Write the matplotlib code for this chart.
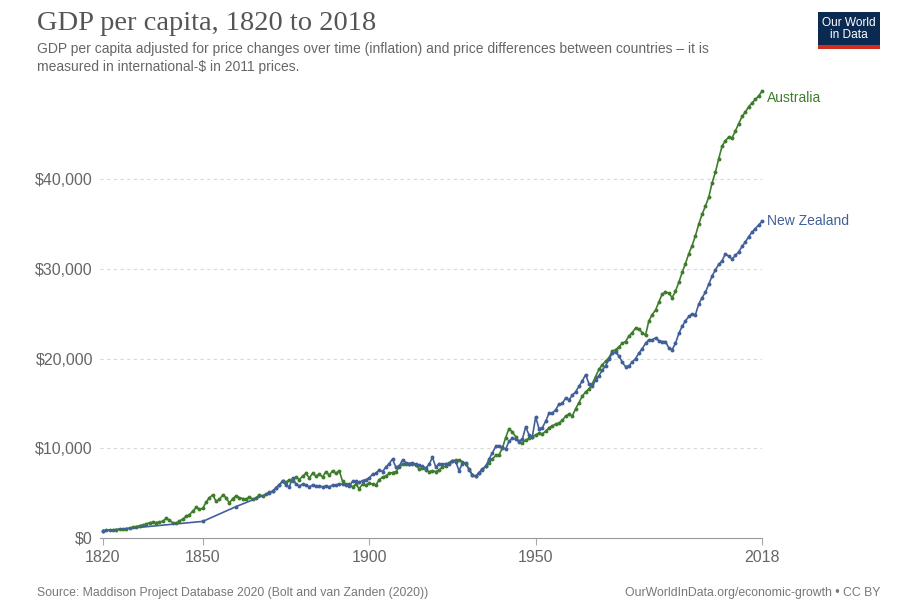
import matplotlib
matplotlib.use("Agg")
import matplotlib.pyplot as plt
from matplotlib.patches import Rectangle
from matplotlib.ticker import FuncFormatter

# GDP per capita (int.-$, 2011 prices)
aus_years = list(range(1820, 2019))
aus_gdp = [
    820, 850, 880, 900, 930, 970, 1000, 1050, 1100, 1200,            # 1820s
    1280, 1350, 1450, 1550, 1700, 1750, 1720, 1800, 1850, 2200,      # 1830s
    1950, 1700, 1650, 1900, 2100, 2400, 2600, 3000, 3400, 3200,      # 1840s
    3300, 4000, 4500, 4800, 4100, 4300, 4800, 4500, 3900, 4400,      # 1850s
    4700, 4500, 4400, 4300, 4600, 4300, 4500, 4800, 4700, 4900,      # 1860s
    5100, 5200, 5600, 5900, 6400, 6200, 6500, 6300, 6800, 6500,      # 1870s
    6900, 7200, 6700, 7200, 6900, 7100, 6800, 7400, 7000, 7500,      # 1880s
    7200, 7500, 6300, 6000, 6000, 5700, 6000, 5500, 6000, 5900,      # 1890s
    6100, 6000, 5900, 6500, 6800, 6900, 7200, 7300, 7400, 7900,      # 1900s
    8300, 8200, 8200, 8300, 8100, 7700, 7800, 7600, 7400, 7500,      # 1910s
    7400, 7600, 7900, 8000, 8400, 8600, 8700, 8700, 8500, 8200,      # 1920s
    7700, 7000, 6900, 7200, 7600, 8000, 8400, 8800, 9200, 9300,      # 1930s
    10000, 11200, 12200, 11800, 11300, 10700, 10600, 10900, 11100, 11300,  # 1940s
    11500, 11700, 11600, 11900, 12300, 12500, 12700, 12800, 13100, 13600,  # 1950s
    13800, 13600, 14400, 15100, 15800, 16300, 16600, 17200, 18000, 18800,  # 1960s
    19300, 19700, 20100, 20800, 21000, 21300, 21700, 21900, 22500, 22900,  # 1970s
    23400, 23300, 22900, 22600, 24200, 24900, 25400, 26300, 27200, 27400,  # 1980s
    27300, 26800, 27500, 28500, 29600, 30600, 31700, 32600, 33700, 35000,  # 1990s
    36100, 37000, 38000, 39600, 40800, 42300, 43700, 44300, 44700, 44600,  # 2000s
    45400, 46200, 47000, 47500, 48100, 48500, 48900, 49300, 49800,         # 2010s
]

nz_years = [1820, 1850, 1860] + list(range(1870, 2019))
nz_gdp = [
    800, 1850, 3500,
    5000, 5200, 5600, 5900, 6300, 5900, 5700, 6700, 6000, 5800,      # 1870s
    6000, 5900, 5700, 5900, 5800, 5800, 5700, 5800, 5700, 5900,      # 1880s
    5900, 6000, 6000, 5900, 5800, 6300, 6300, 6200, 6400, 6500,      # 1890s
    6700, 7100, 7200, 7600, 7400, 7900, 8300, 8800, 7900, 8000,      # 1900s
    8700, 8400, 8300, 8400, 8200, 8100, 8000, 7800, 8200, 9000,      # 1910s
    7900, 8300, 8200, 8300, 8300, 8600, 8500, 7500, 8300, 8400,      # 1920s
    7600, 7000, 6900, 7300, 7700, 8000, 8800, 9500, 10200, 10300,    # 1930s
    10100, 9900, 10800, 11100, 11000, 10800, 11000, 12400, 11500, 11300,   # 1940s
    13500, 12200, 12300, 13000, 13900, 13900, 14300, 14900, 15000, 15600,  # 1950s
    15400, 15900, 16300, 16900, 17500, 18200, 17200, 16900, 17600, 18100,  # 1960s
    18700, 19200, 19900, 20600, 20700, 20300, 19600, 19100, 19200, 19600,  # 1970s
    20000, 20600, 21100, 21700, 22100, 22100, 22300, 22000, 21900, 21900,  # 1980s
    21200, 21000, 21700, 22800, 23600, 24200, 24700, 25000, 24900, 26100,  # 1990s
    26800, 27400, 28300, 29200, 29900, 30500, 30900, 31700, 31400, 31100,  # 2000s
    31500, 31900, 32500, 33000, 33600, 34100, 34500, 34900, 35300,         # 2010s
]

series = [
    ("Australia", aus_years, aus_gdp, "#3e7d2c"),
    ("New Zealand", nz_years, nz_gdp, "#41609a"),
]
x_ticks = [1820, 1850, 1900, 1950, 2018]
y_ticks = [0, 10000, 20000, 30000, 40000]

fig = plt.figure(figsize=(9, 6.14), dpi=100)
ax = fig.add_axes([0.111, 0.1238, 0.7357, 0.7304])

for name, yrs, vals, col in series:
    ax.plot(yrs, vals, color=col, lw=1.2, marker="o", ms=1.8,
            clip_on=False, zorder=3)
    # keep the top label from sitting on the frame edge, as in the original
    ax.text(yrs[-1] + 1.5, min(vals[-1], 49100), name, color=col, fontsize=10,
            va="center", ha="left", family="Liberation Sans")

ax.set_xlim(1819.1, 2018)
ax.set_ylim(0, 50000)
ax.set_xticks(x_ticks)
ax.set_yticks(y_ticks)
ax.yaxis.set_major_formatter(FuncFormatter(lambda v, p: f"${v:,.0f}"))

for v in y_ticks[1:]:
    ax.axhline(v, color="#d9d9d9", lw=0.8, ls=(0, (3, 3)), zorder=1)

for s in ["top", "right", "left"]:
    ax.spines[s].set_visible(False)
ax.spines["bottom"].set_color("#999999")
ax.tick_params(axis="x", colors="#aaaaaa", length=5, width=0.8,
               labelcolor="#666666", labelsize=11.5, pad=4)
ax.tick_params(axis="y", length=0, labelcolor="#666666", labelsize=11.5, pad=5)
for lab in ax.get_xticklabels() + ax.get_yticklabels():
    lab.set_family("Liberation Sans")

# title block
fig.text(0.041, 0.951, "GDP per capita, 1820 to 2018", fontsize=20.5,
         family="Liberation Serif", color="#555555", va="baseline")
fig.text(0.041, 0.914,
         "GDP per capita adjusted for price changes over time (inflation) and price differences between countries \u2013 it is",
         fontsize=10, family="Liberation Sans", color="#666666", va="baseline")
fig.text(0.041, 0.885, "measured in international-$ in 2011 prices.",
         fontsize=10, family="Liberation Sans", color="#666666", va="baseline")

# logo
fig.patches.append(Rectangle((0.909, 0.925), 0.069, 0.056, transform=fig.transFigure,
                             facecolor="#0b2a52", edgecolor="none"))
fig.patches.append(Rectangle((0.909, 0.92), 0.069, 0.006, transform=fig.transFigure,
                             facecolor="#d42b21", edgecolor="none"))
fig.text(0.9435, 0.953, "Our World\nin Data", fontsize=8.6, color="white",
         ha="center", va="center", family="Liberation Sans", linespacing=1.0)

# footer
fig.text(0.041, 0.03, "Source: Maddison Project Database 2020 (Bolt and van Zanden (2020))",
         fontsize=8.8, family="Liberation Sans", color="#777777", va="baseline")
fig.text(0.978, 0.03, "OurWorldInData.org/economic-growth \u2022 CC BY",
         fontsize=8.8, family="Liberation Sans", color="#777777", va="baseline", ha="right")

fig.savefig("out.png", dpi=100)
